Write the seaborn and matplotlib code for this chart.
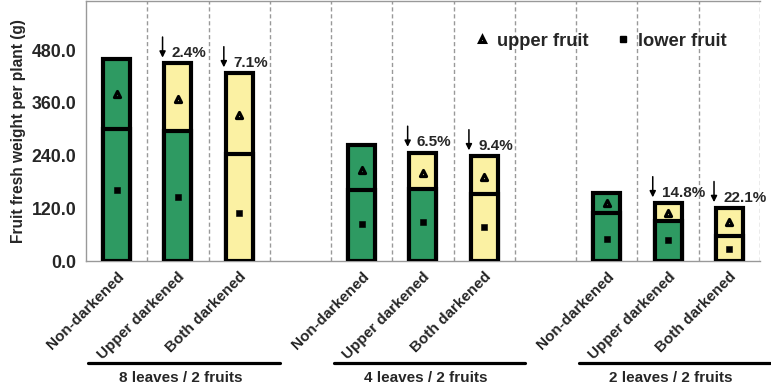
import pandas as pd
import matplotlib
matplotlib.use("Agg")
import matplotlib.pyplot as plt
from matplotlib.lines import Line2D
import seaborn as sns

groups = ["8 leaves / 2 fruits", "4 leaves / 2 fruits", "2 leaves / 2 fruits"]
treatments = ["Non-darkened", "Upper darkened", "Both darkened"]
total_weight = [461, 450, 428, 264, 247, 239, 155, 132, 121]
lower_weight = [301, 296, 244, 162, 164, 153, 110, 91, 58]
upper_fruit = [381, 369, 333, 208, 200, 191, 132, 110, 89]
lower_fruit = [162, 145, 110, 85, 88, 77, 51, 47, 28]
decrease = ["", "2.4%", "7.1%", "", "6.5%", "9.4%", "", "14.8%", "22.1%"]

green = "#2e9a62"
yellow = "#fbf1a3"
upper_col = {"Non-darkened": green, "Upper darkened": yellow, "Both darkened": yellow}
lower_col = {"Non-darkened": green, "Upper darkened": green, "Both darkened": yellow}

rows = []
i = 0
for g, grp in enumerate(groups):
    for t, trt in enumerate(treatments):
        rows.append({"pos": g * 4 + t, "group": grp, "treatment": trt,
                     "total": total_weight[i], "lower": lower_weight[i],
                     "up_m": upper_fruit[i], "low_m": lower_fruit[i],
                     "dec": decrease[i],
                     "ucol": upper_col[trt], "lcol": lower_col[trt]})
        i += 1
df = pd.DataFrame(rows)

sns.set_style("white")
plt.rcParams["font.family"] = ["Liberation Sans", "DejaVu Sans"]
plt.rcParams["font.weight"] = "bold"

fig = plt.figure(figsize=(7.71, 3.86), dpi=100)
ax = fig.add_axes([0.1115, 0.3238, 0.8742, 0.6736])

for xg in range(11):
    ax.axvline(xg + 0.5, color="#999999", lw=1, ls=(0, (3, 2)), zorder=0)

sns.barplot(data=df, x="pos", y="total", hue="ucol", palette={c: c for c in df["ucol"]},
            native_scale=True, dodge=False, width=0.44, edgecolor="black", saturation=1,
            linewidth=3, legend=False, ax=ax, zorder=2)
sns.barplot(data=df, x="pos", y="lower", hue="lcol", palette={c: c for c in df["lcol"]},
            native_scale=True, dodge=False, width=0.44, edgecolor="black", saturation=1,
            linewidth=3, legend=False, ax=ax, zorder=3)

for _, r in df.iterrows():
    ax.scatter(r["pos"], r["up_m"], marker="^", s=20, facecolor=r["ucol"],
               edgecolor="black", linewidth=2.2, zorder=5)
sns.scatterplot(data=df, x="pos", y="low_m", marker="s", s=24, color="black",
                edgecolor="black", ax=ax, zorder=5)

for _, r in df.iterrows():
    if r["dec"]:
        ax.annotate("", xy=(r["pos"] - 0.25, r["total"] + 13),
                    xytext=(r["pos"] - 0.25, r["total"] + 60),
                    arrowprops=dict(arrowstyle="-|>", color="black", lw=1.1,
                                    mutation_scale=9, shrinkA=0, shrinkB=0), zorder=6)
        ax.text(r["pos"] - 0.1, r["total"] + 14, r["dec"], fontsize=11,
                fontweight="bold", ha="left", va="baseline", zorder=6)

ax.set_xlim(-0.5, 10.5)
ax.set_ylim(0, 592)
ax.set_yticks([0, 120, 240, 360, 480])
ax.set_yticklabels([f"{v:.1f}" for v in [0, 120, 240, 360, 480]], fontsize=12.8, fontweight="bold")
ax.set_xticks(df["pos"])
ax.set_xticklabels(df["treatment"], rotation=45, ha="right", rotation_mode="anchor",
                   fontsize=11, fontweight="bold")
ax.tick_params(axis="both", length=0)
ax.tick_params(axis="y", pad=7)
ax.tick_params(axis="x", pad=6)
ax.set_xlabel("")
ax.set_ylabel("Fruit fresh weight per plant (g)", fontsize=11.2, fontweight="bold", labelpad=4)

for s in ["left", "top", "bottom"]:
    ax.spines[s].set_color("#999999")
    ax.spines[s].set_linewidth(1)
ax.spines["right"].set_visible(False)

trans = ax.get_xaxis_transform()
for g, grp in enumerate(groups):
    x0 = g * 4
    ax.plot([x0 - 0.46, x0 + 2.66], [-0.391, -0.391], color="black", lw=2.3,
            transform=trans, clip_on=False)
    ax.text(x0 + 1.05, -0.45, grp, transform=trans, ha="center", va="center",
            fontsize=11, fontweight="bold")

handles = [Line2D([], [], marker="^", ls="", markersize=5, markerfacecolor="white",
                  markeredgecolor="black", markeredgewidth=2.2),
           Line2D([], [], marker="s", ls="", markersize=5, color="black")]
ax.legend(handles, ["upper fruit", "lower fruit"], loc="center", bbox_to_anchor=(0.764, 0.846),
          ncol=2, frameon=False, prop={"size": 13.2, "weight": "bold"},
          handlelength=0.7, handletextpad=0.5, columnspacing=1.5)

fig.savefig("out.png", dpi=100)
